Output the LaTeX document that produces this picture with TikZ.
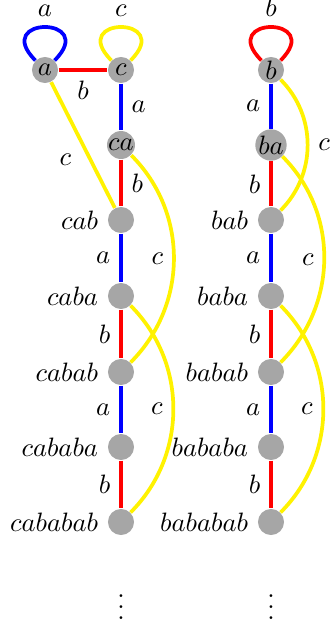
\documentclass[tikz,border=0pt]{standalone}
\usetikzlibrary{backgrounds}
\begin{document}
\begin{tikzpicture}[x=0.376pt,y=-0.376pt,
  vtx/.style={circle,fill=gray!70,minimum size=9.8pt,inner sep=0pt},
  ed/.style={line width=1.4pt,every node/.append style={text=black}},
  ye/.style={ed,yellow},
  re/.style={ed,red},
  bl/.style={ed,blue}]
\useasboundingbox (0,0) rectangle (330,627);
% left column
\node[vtx] (a) at (45,70) {$a$};
\node[vtx] (c) at (121,70) {$c$};
\node[vtx] (ca) at (121,145) {$ca$};
\node[vtx,label=left:$cab$] (cab) at (121,220) {};
\node[vtx,label=left:$caba$] (caba) at (121,296) {};
\node[vtx,label=left:$cabab$] (cabab) at (121,372) {};
\node[vtx,label=left:$cababa$] (cababa) at (121,447) {};
\node[vtx,label=left:$cababab$] (cababab) at (121,522) {};
\node (dl) at (121,599) {$\vdots$};
% right column
\node[vtx] (b) at (271,70) {$b$};
\node[vtx] (ba) at (271,145) {$ba$};
\node[vtx,label=left:$bab$] (bab) at (271,220) {};
\node[vtx,label=left:$baba$] (baba) at (271,296) {};
\node[vtx,label=left:$babab$] (babab) at (271,372) {};
\node[vtx,label=left:$bababa$] (bababa) at (271,447) {};
\node[vtx,label=left:$bababab$] (bababab) at (271,522) {};
\node (dr) at (271,599) {$\vdots$};
\begin{scope}[on background layer]
% loops
\draw[bl] (a.135) .. controls +(135:23.7pt) and +(45:23.7pt) .. node[above]{$a$} (a.45);
\draw[ye] (c.135) .. controls +(135:23.7pt) and +(45:23.7pt) .. node[above]{$c$} (c.45);
\draw[re] (b.135) .. controls +(135:23.7pt) and +(45:23.7pt) .. node[above]{$b$} (b.45);
% left column edges
\draw[re] (a) -- node[below]{$b$} (c);
\draw[bl] (c) -- node[right]{$a$} (ca);
\draw[re] (ca) -- node[right]{$b$} (cab);
\draw[bl] (cab) -- node[left]{$a$} (caba);
\draw[re] (caba) -- node[left]{$b$} (cabab);
\draw[bl] (cabab) -- node[left]{$a$} (cababa);
\draw[re] (cababa) -- node[left]{$b$} (cababab);
\draw[ye] (a) -- node[pos=0.62,left=3.3pt]{$c$} (cab);
\draw[ye] (ca) to[out=-45,in=45] node[left]{$c$} (cabab);
\draw[ye] (caba) to[out=-45,in=45] node[left]{$c$} (cababab);
% right column edges
\draw[bl] (b) -- node[left]{$a$} (ba);
\draw[re] (ba) -- node[left]{$b$} (bab);
\draw[bl] (bab) -- node[left]{$a$} (baba);
\draw[re] (baba) -- node[left]{$b$} (babab);
\draw[bl] (babab) -- node[left]{$a$} (bababa);
\draw[re] (bababa) -- node[left]{$b$} (bababab);
\draw[ye] (b) to[out=-45,in=45] node[right]{$c$} (bab);
\draw[ye] (ba) to[out=-45,in=45] node[left]{$c$} (babab);
\draw[ye] (baba) to[out=-45,in=45] node[left]{$c$} (bababab);
\end{scope}
\end{tikzpicture}
\end{document}
